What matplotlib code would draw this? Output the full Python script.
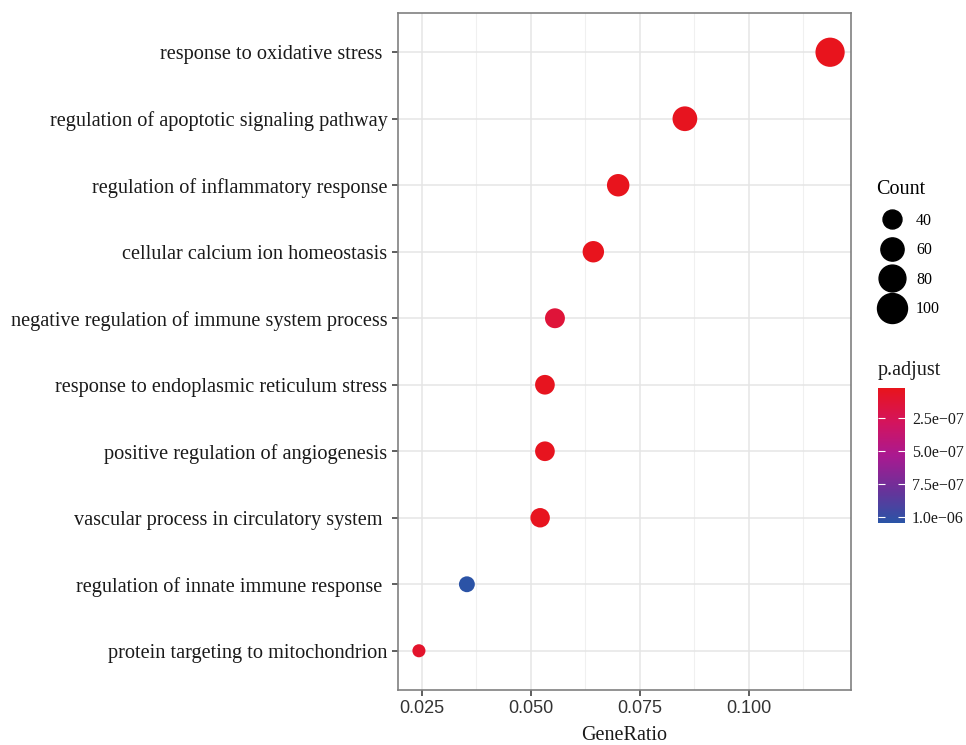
import numpy as np
import matplotlib
matplotlib.use('Agg')
import matplotlib.pyplot as plt
from matplotlib.colors import LinearSegmentedColormap, Normalize
from matplotlib.lines import Line2D

terms = ['response to oxidative stress ',
         'regulation of apoptotic signaling pathway',
         'regulation of inflammatory response',
         'cellular calcium ion homeostasis',
         'negative regulation of immune system process',
         'response to endoplasmic reticulum stress',
         'positive regulation of angiogenesis',
         'vascular process in circulatory system ',
         'regulation of innate immune response ',
         'protein targeting to mitochondrion']
gene_ratio = [0.1186, 0.0853, 0.0700, 0.0643, 0.0555, 0.0532, 0.0532, 0.0521, 0.0353, 0.0243]
counts = [95, 68, 56, 51, 44, 43, 43, 42, 28, 19]
p_adjust = [3.0e-8, 3.5e-8, 3.0e-8, 3.0e-8, 1.4e-7, 3.5e-8, 3.5e-8, 3.5e-8, 1.04e-6, 9.0e-8]

legend_counts = [40, 60, 80, 100]
cbar_ticks = [2.5e-7, 5.0e-7, 7.5e-7, 1.0e-6]
cbar_labels = ['2.5e\u221207', '5.0e\u221207', '7.5e\u221207', '1.0e\u221206']
x_ticks = [0.025, 0.050, 0.075, 0.100]

serif = 'Liberation Serif'
sans = 'Liberation Sans'

cmap = LinearSegmentedColormap.from_list(
    'padj', [(0.0, '#E8141C'), (0.25, '#D4145C'), (0.5, '#AA1990'),
             (0.75, '#6B3199'), (1.0, '#2A54A6')])
norm = Normalize(vmin=2.3e-8, vmax=1.045e-6)


def diam(c):
    # marker diameter in points (area ~ count)
    return 2.16 * np.sqrt(c)


fig = plt.figure(figsize=(9.66, 7.45), dpi=100)
ax = fig.add_axes([398 / 966, 1 - 690 / 745, 453 / 966, 677 / 745])

n = len(terms)
ypos = np.arange(n)[::-1] + 1
ax.scatter(gene_ratio, ypos, s=[diam(c) ** 2 for c in counts],
           c=p_adjust, cmap=cmap, norm=norm, edgecolors='none', zorder=3)

ax.set_xlim(0.0195, 0.1234)
ax.set_ylim(0.41, n + 0.59)
ax.set_yticks(ypos)
ax.set_yticklabels(terms, fontfamily=serif, fontsize=14.6, color='#1a1a1a')
ax.set_xticks(x_ticks)
ax.set_xticklabels(['%.3f' % v for v in x_ticks], fontfamily=sans, fontsize=13, color='#333333')
ax.set_xticks([0.0375, 0.0625, 0.0875, 0.1125], minor=True)
ax.grid(True, which='major', color='#E5E5E5', lw=1.1, zorder=0)
ax.grid(True, which='minor', axis='x', color='#F0F0F0', lw=0.8, zorder=0)
ax.tick_params(axis='both', which='major', length=4, width=1.1, color='#333333')
ax.tick_params(axis='x', which='minor', length=0)
for sp in ax.spines.values():
    sp.set_color('#808080')
    sp.set_linewidth(1.2)
ax.set_axisbelow(True)
ax.set_xlabel('GeneRatio', fontfamily=serif, fontsize=14.5, color='#1a1a1a', labelpad=6)

# Count legend
handles = [Line2D([], [], ls='none', marker='o', color='black', markersize=diam(c))
           for c in legend_counts]
leg = fig.legend(handles, [str(c) for c in legend_counts], loc='upper left',
                 bbox_to_anchor=(868 / 966, 1 - 172 / 745), frameon=False,
                 title='Count', alignment='left', labelspacing=0.85, handletextpad=0.5,
                 prop={'family': serif, 'size': 11.5}, borderpad=0)
leg.get_title().set_fontfamily(serif)
leg.get_title().set_fontsize(14.5)

# p.adjust colorbar
cax = fig.add_axes([878 / 966, 1 - 523 / 745, 27 / 966, 135 / 745])
sm = matplotlib.cm.ScalarMappable(norm=norm, cmap=cmap)
cb = fig.colorbar(sm, cax=cax)
cb.outline.set_visible(False)
cax.invert_yaxis()
cb.set_ticks(cbar_ticks)
cb.set_ticklabels(cbar_labels)
cax.tick_params(direction='in', length=5, width=0.8, colors='white', left=True, right=True, pad=5)
for t in cax.get_yticklabels():
    t.set_color('#1a1a1a')
    t.set_fontfamily(serif)
    t.set_fontsize(11.5)
cax.text(0, 1.06, 'p.adjust', transform=cax.transAxes, ha='left', va='bottom',
         fontfamily=serif, fontsize=14.5, color='#1a1a1a')

fig.savefig('out.png', dpi=100)
